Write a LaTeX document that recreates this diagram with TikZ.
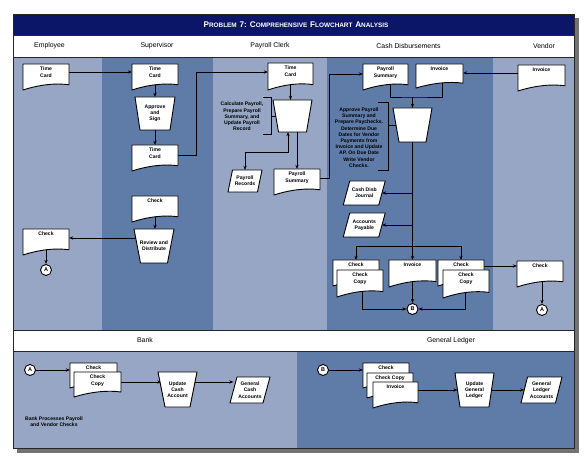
\documentclass[tikz,border=0pt]{standalone}
\usepackage{fontspec}
\setmainfont{Liberation Sans}
\usetikzlibrary{arrows.meta}
\pgfdeclarelayer{bg}
\pgfdeclarelayer{conn}
\pgfsetlayers{bg,conn,main}

\definecolor{navy}{RGB}{12,22,104}
\definecolor{laneL}{RGB}{150,166,196}
\definecolor{laneD}{RGB}{95,123,168}

\tikzset{
 shp/.style={draw=black, fill=white, line width=0.9pt, line join=round},
 arr/.style={-{Stealth[length=4.2pt,width=3.2pt]}, line width=0.75pt},
 arrtwo/.style={{Stealth[length=4.2pt,width=3.2pt]}-{Stealth[length=4.2pt,width=3.2pt]}, line width=0.75pt},
 ln/.style={line width=0.75pt},
 txt/.style={font=\fontsize{5.1}{6.2}\selectfont\bfseries, align=center, inner sep=0pt},
 hdr/.style={font=\fontsize{6.9}{8}\selectfont, inner sep=0pt},
 ghost/.style={draw=none, inner sep=0pt, outer sep=0pt},
 conn/.style={circle, draw=black, fill=white, line width=0.9pt, minimum size=11pt, inner sep=0pt, font=\fontsize{5.5}{6}\selectfont\bfseries},
}

% document: name, cx, cy, w, h, text
\newcommand\docu[6]{%
  \node[ghost, minimum width=#4pt, minimum height=#5pt] (#1) at (#2,#3) {};
  \path[shp] (#1.north west) -- (#1.north east) -- ([yshift=0.2*#5pt]#1.south east)
     .. controls +(-0.3*#4,-2) and +(0.35*#4,-0.2*#5) .. (#1.south west) -- cycle;
  \node[txt, anchor=north] (#1t) at ([yshift=-3pt]#1.north) {#6};
}
% trapezoid: name, cx, cy, wtop, wbot, h, text
\newcommand\trap[7]{%
  \node[ghost, minimum width={(#4+#5)/2*1pt}, minimum height=#6pt] (#1) at (#2,#3) {};
  \path[shp] (#2-#4/2,#3-#6/2) -- (#2+#4/2,#3-#6/2) -- (#2+#5/2,#3+#6/2) -- (#2-#5/2,#3+#6/2) -- cycle;
  \node[txt] (#1t) at (#2,#3) {#7};
}
% parallelogram: name, cx, cy, w, h, slant, text
\newcommand\para[7]{%
  \node[ghost, minimum width=#4pt, minimum height=#5pt] (#1) at (#2,#3) {};
  \path[shp] (#2-#4/2+#6/2,#3-#5/2) -- (#2+#4/2+#6/2,#3-#5/2) -- (#2+#4/2-#6/2,#3+#5/2) -- (#2-#4/2-#6/2,#3+#5/2) -- cycle;
  \node[txt] (#1t) at (#2,#3) {#7};
}
\newcommand\SCa[1]{{\fontsize{8.2}{9}\selectfont #1}}
\newcommand\SCb[1]{{\fontsize{6.4}{9}\selectfont #1}}

\begin{document}
\begin{tikzpicture}[x=1pt,y=-1pt]
\useasboundingbox (0,0) rectangle (586,462);
\begin{pgfonlayer}{bg}
  \fill[black!55] (17,18) rectangle (579,453);
  \fill[white] (13,14) rectangle (574,448);
  \fill[navy] (13,14) rectangle (574,35);
  \fill[laneL] (13,57) rectangle (102,330);
  \fill[laneD] (102,57) rectangle (213,330);
  \fill[laneL] (213,57) rectangle (327,330);
  \fill[laneD] (327,57) rectangle (493,330);
  \fill[laneL] (493,57) rectangle (574,330);
  \fill[laneL] (13,351) rectangle (297,448);
  \fill[laneD] (297,351) rectangle (574,448);
  \draw[line width=0.8pt, black!85] (13,14) rectangle (574,448);
  \draw[line width=0.7pt, black!85] (13,35) -- (574,35) (13,57) -- (574,57)
       (13,330) -- (574,330) (13,351) -- (574,351);
\end{pgfonlayer}

\node[text=white, font=\bfseries, inner sep=0pt] (title) at (296,25)
  {\SCa{P}\SCb{ROBLEM} \SCa{7: C}\SCb{OMPREHENSIVE} \SCa{F}\SCb{LOWCHART} \SCa{A}\SCb{NALYSIS}};
\node[hdr] (hEmp) at (49.5,46) {Employee};
\node[hdr] (hSup) at (157,46) {Supervisor};
\node[hdr] (hPay) at (270,46) {Payroll Clerk};
\node[hdr] (hCash) at (408.5,46) {Cash Disbursements};
\node[hdr] (hVen) at (544,46) {Vendor};
\node[hdr] (hBank) at (145,340.5) {Bank};
\node[hdr] (hGL) at (451,340.5) {General Ledger};

% Employee
\docu{tcE}{46}{77}{46}{26}{Time\\Card}
\docu{chkE}{46}{242}{46}{26}{Check}
\node[conn] (A1) at (46,270) {A};

% Supervisor
\docu{tcS}{155}{77}{46}{26}{Time\\Card}
\trap{appr}{155}{113.5}{40}{30}{33}{Approve\\and\\Sign}
\docu{tcS2}{155}{158}{46}{26}{Time\\Card}
\docu{chkS}{155}{209}{46}{26}{Check}
\trap{rev}{154}{246}{40}{27}{34}{Review and\\Distribute}

% Payroll clerk
\docu{tcP}{290.5}{76.5}{45}{27}{Time\\Card}
\trap{calc}{292.5}{116}{39}{28}{32}{}
\node[txt] (ann1) at (242,116.5) {Calculate Payroll,\\Prepare Payroll\\Summary, and\\Update Payroll\\Record};
\draw[ln] (263,97) -- (271,97) -- (271,134) -- (263,134);
\draw[ln] (271,116) -- (calc.west);
\para{prec}{245}{181}{29.5}{22}{4.5}{Payroll\\Records}
\docu{psumP}{297}{182}{46}{26}{Payroll\\Summary}

% Cash disbursements
\docu{psumC}{385.5}{77}{45}{26}{Payroll\\Summary}
\docu{invC}{439.5}{76}{47}{24}{Invoice}
\trap{cdp}{412.5}{125}{39}{27}{34}{}
\node[txt] (ann2) at (359,137.5) {Approve Payroll\\Summary and\\Prepare Paychecks.\\Determine Due\\Dates for Vendor\\Payments from\\Invoice and Update\\AP. On Due Date\\Write Vendor\\Checks.};
\draw[ln] (378,102) -- (388,102) -- (388,170) -- (378,170);
\draw[ln] (388,125) -- (cdp.west);
\para{cdj}{364.25}{193}{35.5}{24}{6.5}{Cash Disb\\Journal}
\para{ap}{364.25}{225}{35.5}{24}{6.5}{Accounts\\Payable}
\docu{chkL1}{356}{273}{46}{26}{Check}
\docu{chkL2}{360}{283.5}{46}{27}{Check\\Copy}
\docu{invM}{412.5}{273.5}{47}{27}{Invoice}
\docu{chkR1}{461}{273}{46}{26}{Check}
\docu{chkR2}{466}{284}{46}{28}{Check\\Copy}
\node[conn] (B1) at (412.5,309) {B};

% Vendor
\docu{invV}{541.5}{78}{47}{26}{Invoice}
\docu{chkV}{540}{274}{46}{26}{Check}
\node[conn] (A2) at (542,310) {A};

% Bank
\node[conn] (A3) at (30,370) {A};
\docu{bchk1}{93.5}{375.5}{47}{25}{Check}
\docu{bchk2}{97.5}{384.5}{47}{25}{Check\\Copy}
\trap{bupd}{177.5}{389.5}{39}{25}{35}{Update\\Cash\\Account}
\para{gca}{250}{390}{33}{26}{7}{General\\Cash\\Accounts}
\node[txt] (bnote) at (54,422) {Bank Processes Payroll\\and Vendor Checks};

% General ledger
\node[conn] (B2) at (323,370) {B};
\docu{gl1}{386}{375.5}{46}{25}{Check}
\docu{gl2}{390}{385.5}{46}{25}{Check Copy}
\docu{gl3}{395.5}{395}{45}{26}{Invoice}
\trap{glu}{474.5}{390}{39}{29}{34}{Update\\General\\Ledger}
\para{gla}{541.5}{390}{34.5}{26}{6.5}{General\\Ledger\\Accounts}

\begin{pgfonlayer}{conn}
\draw[arr] ([yshift=5pt]tcE.east) -- ([yshift=5pt]tcS.west);
\draw[arr] (tcS.center) -- (appr.north);
\draw[arr] (appr.south) -- (tcS2.north);
\draw[arr] ([yshift=3pt]tcS2.east) -- ++(18,0) |- ([yshift=4.5pt]tcP.west);
\draw[arr] (tcP.center) -- (tcP.center |- calc.north);
\draw[arrtwo] ([xshift=-4.5pt]calc.south) -- ++(0,20) -| (prec.north);
\draw[arr] ([xshift=4.5pt]calc.south) -- (psumP.north);
\draw[arr] ([yshift=4pt]psumP.east) -- ++(9,0) |- ([yshift=3pt]psumC.west);
\draw[arr] ([yshift=5pt]invV.west) -- ([yshift=3pt]invC.east);
\coordinate (j1) at (412.5,97);
\draw[ln] ([xshift=4.5pt]psumC.center) |- (j1) -| ([xshift=2.5pt]invC.center);
\draw[arr] (j1) -- (cdp.north);
\draw[arr] (cdp.south) -- (invM.north);
\draw[arr] (cdp.south |- cdj.east) -- (cdj.east);
\draw[arr] (cdp.south |- ap.east) -- (ap.east);
\coordinate (j2) at (412.5,246);
\draw[arr] (j2) -| (chkL1.north);
\draw[arr] (j2) -| (chkR1.north);
\draw[arr] ([xshift=2pt]chkL2.center) |- (B1.west);
\draw[arr] (invM.center) -- (B1.north);
\draw[arr] ([xshift=-1pt]chkR2.center) |- (B1.east);
\draw[arr] ([yshift=7pt]chkR1.east) -- ([yshift=7pt]chkR1.east -| chkV.west);
\draw[arr] (A2 |- chkV.center) -- (A2.north);
\draw[arr] (chkS.center) -- (chkS.center |- rev.north);
\draw[arr] ([yshift=8pt]rev.west) -- ([yshift=8pt]rev.west -| chkE.east);
\draw[arr] (chkE.center) -- (A1.north);
\draw[arr] (A3.east) -- (A3.east -| bchk1.west);
\draw[arr] ([yshift=2.5pt]bchk2.east) -- ([yshift=2.5pt]bchk2.east -| bupd.west);
\draw[arr] ([yshift=7.5pt]bupd.east) -- ([yshift=7.5pt]bupd.east -| gca.west);
\draw[arr] (B2.east) -- (B2.east -| gl1.west);
\draw[arr] ([yshift=5pt]gl3.east) -- (glu.west);
\draw[arr] (glu.east) -- (gla.west);
\end{pgfonlayer}
\end{tikzpicture}
\end{document}
